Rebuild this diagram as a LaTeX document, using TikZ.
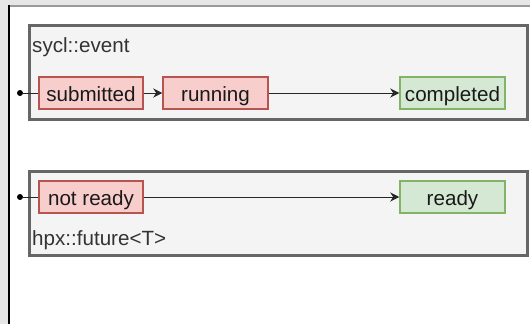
\documentclass[tikz,border=0pt]{standalone}
\usepackage{fontspec}
\setmainfont{Liberation Sans}
\usetikzlibrary{arrows.meta}
\definecolor{bgout}{HTML}{E6E6E6}
\definecolor{redfill}{HTML}{F8CECC}
\definecolor{redline}{HTML}{B85450}
\definecolor{greenfill}{HTML}{D5E8D4}
\definecolor{greenline}{HTML}{82B366}
\definecolor{boxfill}{HTML}{F4F4F4}
\definecolor{boxline}{HTML}{666666}
\definecolor{txtgray}{HTML}{333333}
\tikzset{
  container/.style={draw=boxline, fill=boxfill, line width=3pt, inner sep=0pt},
  statebase/.style={line width=1.5pt, minimum height=32pt, inner sep=0pt, text height=18pt, text depth=2pt, font=\fontsize{20.6}{24}\selectfont, text=black!90},
  statered/.style={statebase, draw=redline, fill=redfill},
  stategreen/.style={statebase, draw=greenline, fill=greenfill},
  boxlabel/.style={anchor=base west, inner sep=0pt, font=\fontsize{20.6}{24}\selectfont, text=txtgray},
  conn/.style={draw=black!85, line width=1pt, -{Stealth[length=9pt,width=9pt,inset=3pt]}},
  startdot/.style={circle, fill=black, inner sep=0pt, minimum size=6pt},
}
\begin{document}
\begin{tikzpicture}[x=1pt,y=-1pt]
\useasboundingbox (0,0) rectangle (530,324);
\fill[bgout] (0,0) rectangle (530,324);
\fill[white] (8,5) rectangle (530,324);
\draw[gray!80, line width=2pt] (8,6) -- (530,6);
\draw[black, line width=1.2pt] (9,5) -- (9,324);

\node[container, minimum width=498pt, minimum height=94pt] (c1) at (278,72) {};
\node[container, minimum width=498pt, minimum height=84pt] (c2) at (278,213) {};
\node[boxlabel] (l1) at (32,52) {sycl::event};
\node[boxlabel] (l2) at (32,245) {hpx::future<T>};

\node[statered, minimum width=104pt] (sub) at (91,93) {submitted};
\node[statered, minimum width=105pt] (run) at (215.5,93) {running};
\node[stategreen, minimum width=105pt] (comp) at (452.5,93) {completed};
\node[statered, minimum width=104pt] (nr) at (91,197) {not ready};
\node[stategreen, minimum width=105pt] (rd) at (452.5,197) {ready};

\node[startdot] (d1) at (20,93) {};
\node[startdot] (d2) at (20,197) {};

\draw[draw=black!85, line width=1pt] (d1) -- (sub);
\draw[draw=black!85, line width=1pt] (d2) -- (nr);
\draw[conn] (sub) -- (run);
\draw[conn] (run) -- (comp);
\draw[conn] (nr) -- (rd);
\end{tikzpicture}
\end{document}
